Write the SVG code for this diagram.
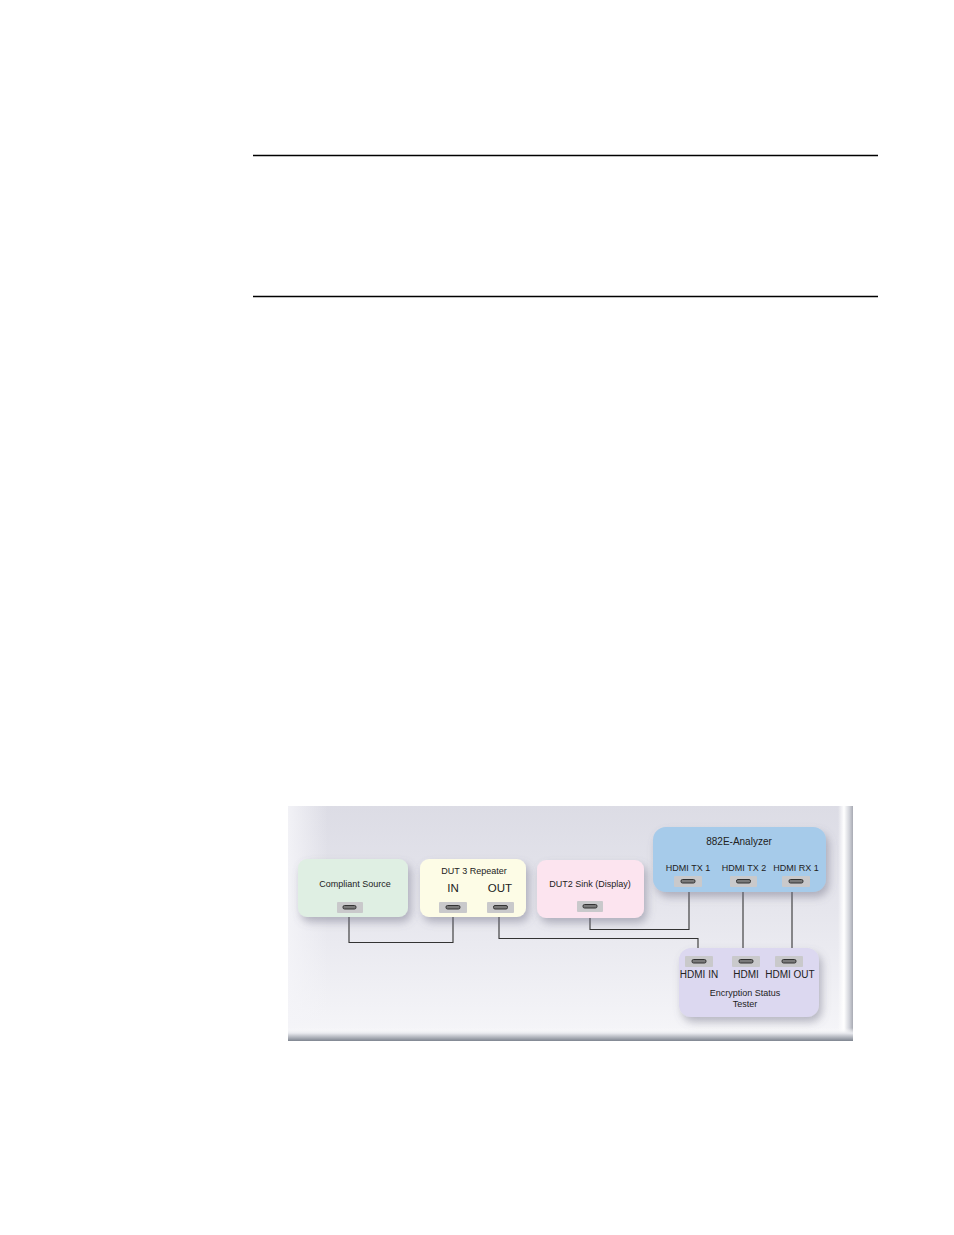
<svg xmlns="http://www.w3.org/2000/svg" width="954" height="1235" viewBox="0 0 954 1235">
<defs>
<linearGradient id="panelG" x1="0" y1="0" x2="0" y2="1">
<stop offset="0" stop-color="#dcdce5"/>
<stop offset="0.45" stop-color="#e6e6ed"/>
<stop offset="1" stop-color="#f6f6f9"/>
</linearGradient>
<linearGradient id="leftG" x1="0" y1="0" x2="1" y2="0">
<stop offset="0" stop-color="#f4f4f8" stop-opacity="0.9"/>
<stop offset="1" stop-color="#f4f4f8" stop-opacity="0"/>
</linearGradient>
<linearGradient id="rightG" x1="0" y1="0" x2="1" y2="0">
<stop offset="0" stop-color="#ffffff" stop-opacity="0"/>
<stop offset="0.4" stop-color="#ffffff"/>
<stop offset="0.75" stop-color="#d2d4db"/>
<stop offset="1" stop-color="#a8aab3"/>
</linearGradient>
<linearGradient id="bottomG" x1="0" y1="0" x2="0" y2="1">
<stop offset="0" stop-color="#ffffff" stop-opacity="0"/>
<stop offset="0.4" stop-color="#e8e9ee"/>
<stop offset="1" stop-color="#7f8590"/>
</linearGradient>
<filter id="sh" x="-20%" y="-20%" width="150%" height="160%">
<feDropShadow dx="3" dy="5" stdDeviation="4" flood-color="#6a6a80" flood-opacity="0.45"/>
</filter>
</defs>
<style>
.rule{stroke:#000;stroke-width:1.5}
.node{filter:url(#sh)}
.port{fill:#c9c9cb}
.slot{fill:#7a7a7a;stroke:#333;stroke-width:1}
.t{font-family:"Liberation Sans",Arial,sans-serif;fill:#222;text-anchor:middle}
.s9{font-size:9px}
.s10{font-size:10px}
.s11{font-size:11.5px}
.wire{fill:none;stroke:#333;stroke-width:1.1}
</style>
<line class="rule" x1="253" y1="155.5" x2="878" y2="155.5"/>
<line class="rule" x1="253" y1="296.5" x2="878" y2="296.5"/>
<g id="panel">
<rect x="288" y="806" width="565" height="235" fill="url(#panelG)"/>
<rect x="288" y="806" width="40" height="235" fill="url(#leftG)"/>
<rect x="838" y="806" width="15" height="235" fill="url(#rightG)"/>
<rect x="288" y="1028" width="565" height="13" fill="url(#bottomG)"/>
</g>
<g id="connectors">
<polyline class="wire" points="349,912 349,942.5 453,942.5 453,912"/>
<polyline class="wire" points="499,912 499,938.5 698,938.5 698,958"/>
<polyline class="wire" points="590,911 590,929.5 689,929.5 689,886"/>
<polyline class="wire" points="743,886 743,958"/>
<polyline class="wire" points="792,886 792,958"/>
</g>
<g id="compliant-source">
<rect class="node" x="298" y="859" width="110" height="58" rx="9" fill="#dfefe3"/>
<text class="t s9" x="355" y="887">Compliant Source</text>
<rect class="port" x="337" y="902" width="26" height="11" rx="1"/>
<rect class="slot" x="343" y="905.5" width="13" height="3.5" rx="1.5"/>
</g>
<g id="dut3-repeater">
<rect class="node" x="420" y="859" width="106" height="58" rx="9" fill="#fdfce6"/>
<text class="t s9" x="474" y="874">DUT 3 Repeater</text>
<text class="t s11" x="453" y="892">IN</text>
<text class="t s11" x="500" y="892">OUT</text>
<rect class="port" x="439" y="902" width="28" height="11" rx="1"/>
<rect class="slot" x="446" y="905.5" width="14" height="3.5" rx="1.5"/>
<rect class="port" x="487" y="902" width="27" height="11" rx="1"/>
<rect class="slot" x="493.5" y="905.5" width="14" height="3.5" rx="1.5"/>
</g>
<g id="dut2-sink">
<rect class="node" x="537" y="860" width="107" height="58" rx="9" fill="#fce4ef"/>
<text class="t s9" x="590" y="887">DUT2 Sink (Display)</text>
<rect class="port" x="577" y="901" width="26" height="11" rx="1"/>
<rect class="slot" x="583" y="904.5" width="14" height="3.5" rx="1.5"/>
</g>
<g id="analyzer-882e">
<rect class="node" x="653" y="827" width="173" height="65" rx="13" fill="#a6cbea"/>
<text class="t s10" x="739" y="845">882E-Analyzer</text>
<text class="t s9" x="688" y="871">HDMI TX 1</text>
<text class="t s9" x="744" y="871">HDMI TX 2</text>
<text class="t s9" x="796" y="871">HDMI RX 1</text>
<rect class="port" x="674" y="876" width="28" height="11" rx="1"/>
<rect class="slot" x="681" y="879.5" width="14" height="3.5" rx="1.5"/>
<rect class="port" x="730" y="876" width="27" height="11" rx="1"/>
<rect class="slot" x="736.5" y="879.5" width="14" height="3.5" rx="1.5"/>
<rect class="port" x="782" y="876" width="28" height="11" rx="1"/>
<rect class="slot" x="789" y="879.5" width="14" height="3.5" rx="1.5"/>
</g>
<g id="encryption-status-tester">
<rect class="node" x="679" y="948" width="140" height="69" rx="12" fill="#dcd8f0"/>
<rect class="port" x="685" y="956" width="28" height="11" rx="1"/>
<rect class="slot" x="692" y="959.5" width="14" height="3.5" rx="1.5"/>
<rect class="port" x="732" y="956" width="28" height="11" rx="1"/>
<rect class="slot" x="739" y="959.5" width="14" height="3.5" rx="1.5"/>
<rect class="port" x="775" y="956" width="28" height="11" rx="1"/>
<rect class="slot" x="782" y="959.5" width="14" height="3.5" rx="1.5"/>
<text class="t s10" x="699" y="978">HDMI IN</text>
<text class="t s10" x="746" y="978">HDMI</text>
<text class="t s10" x="790" y="978">HDMI OUT</text>
<text class="t s9" x="745" y="996">Encryption Status</text>
<text class="t s9" x="745" y="1007">Tester</text>
</g>
</svg>
